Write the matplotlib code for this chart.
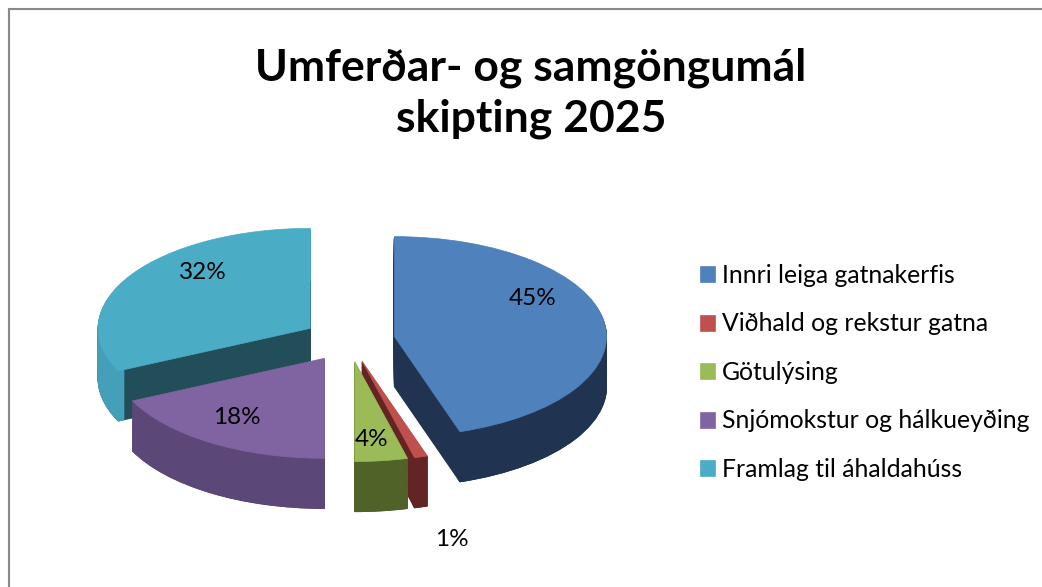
import numpy as np
import matplotlib.pyplot as plt
from matplotlib.lines import Line2D

plt.rcParams['font.family'] = ['Lato', 'DejaVu Sans']

title = "Umferðar- og samgöngumál\nskipting 2025"
categories = ["Innri leiga gatnakerfis", "Viðhald og rekstur gatna", "Götulýsing",
              "Snjómokstur og hálkueyðing", "Framlag til áhaldahúss"]
shares = [45, 1, 4, 18, 32]
pct_labels = ["45%", "1%", "4%", "18%", "32%"]

top_colors = ['#4F81BD', '#C0504D', '#9BBB59', '#8064A2', '#4BACC6']
face_colors = ['#203451', '#632523', '#4F6228', '#574470', '#214E59']   # cut faces
rim_colors = ['#203451', '#632523', '#4F6228', '#5C4779', '#44A0B8']    # outer wall
draw_order = [1, 3, 4, 2, 0]   # back slices first
label_dist = [0.66, 1.52, 0.64, 0.77, 0.6]
label_nudge = [0.28, -0.33, -0.14, 0.06, 0.24]

explode = [0.217] * len(shares)
depth = 0.5
n_layers = 40

fig = plt.figure(figsize=(10.42, 5.87), dpi=100)
ax = fig.add_axes([0, 0, 1, 1])

# cut faces: stack of the same pie shifted down
for i in range(n_layers, 0, -1):
    wedges, _ = ax.pie(shares, explode=explode, startangle=90, counterclock=False,
                       colors=face_colors, center=(0, -depth * i / n_layers))
    for k, w in enumerate(wedges):
        w.set_edgecolor(w.get_facecolor())
        w.set_linewidth(0.8)
        w.set_zorder(draw_order[k] * 100 + 1)

# outer curved wall: thin rim ring shifted down
for i in range(n_layers, 0, -1):
    wedges, _ = ax.pie(shares, explode=explode, startangle=90, counterclock=False,
                       colors=rim_colors, center=(0, -depth * i / n_layers),
                       wedgeprops=dict(width=0.03))
    for k, w in enumerate(wedges):
        w.set_edgecolor(w.get_facecolor())
        w.set_linewidth(0.8)
        w.set_zorder(draw_order[k] * 100 + 20)

# top surface
wedges, _ = ax.pie(shares, explode=explode, startangle=90, counterclock=False,
                   colors=top_colors)
for k, w in enumerate(wedges):
    w.set_edgecolor(w.get_facecolor())
    w.set_linewidth(0.5)
    w.set_zorder(draw_order[k] * 100 + 50)

# percentage labels
total = sum(shares)
start = 0.0
for k, v in enumerate(shares):
    mid = np.deg2rad((start + v / 2) / total * 360)
    start += v
    r = explode[k] + label_dist[k]
    ax.text(r * np.sin(mid), r * np.cos(mid) + label_nudge[k], pct_labels[k],
            fontsize=17.5, ha='center', va='center', color='black', zorder=1000)

ax.set_aspect('auto')
ax.set_xlim(-349 / 212, (1042 - 349) / 212)
ax.set_ylim(-(587 - 340) / 100, 340 / 100)
ax.axis('off')

fig.text(531 / 1042, 1 - 93 / 587, title, ha='center', va='center',
         fontsize=32, fontweight='bold', linespacing=1.33)

leg = fig.legend(wedges, categories, loc='upper left',
                 bbox_to_anchor=(700 / 1042, 1 - 264 / 587), frameon=False,
                 borderpad=0, borderaxespad=0,
                 fontsize=17.8, handlelength=0.6, handleheight=0.6,
                 handletextpad=0.3, labelspacing=1.03)

# chart area border (top and left edges visible)
fig.add_artist(Line2D([8.5 / 1042, 1], [1 - 8.5 / 587, 1 - 8.5 / 587],
                      transform=fig.transFigure, color='#898989', lw=1.5))
fig.add_artist(Line2D([8.5 / 1042, 8.5 / 1042], [0, 1 - 8.5 / 587],
                      transform=fig.transFigure, color='#898989', lw=1.5))

fig.savefig('out.png', dpi=100)
